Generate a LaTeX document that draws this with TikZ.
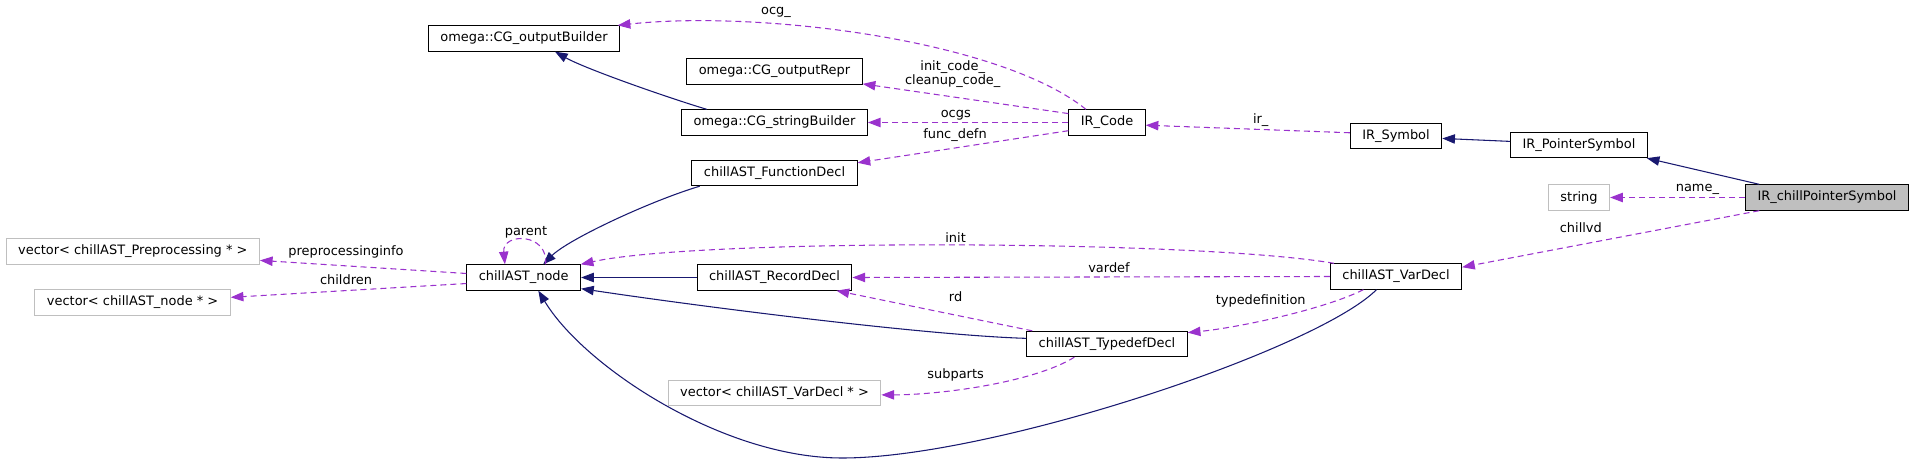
\documentclass[tikz,border=0pt]{standalone}
\usepackage{fontspec}
\setmainfont{DejaVu Sans}
\usetikzlibrary{arrows.meta}
\definecolor{edgeblue}{HTML}{191970}
\definecolor{edgepurple}{HTML}{9A32CD}
\definecolor{boxgrey}{HTML}{BFBFBF}

\begin{document}
\begin{tikzpicture}[x=0.75pt,y=-0.75pt]
    % Stili per classi e frecce
    \tikzset{
        class box/.style={
            draw=black,
            fill=white,
            line width=0.75pt,
            inner xsep=9pt,
            inner ysep=0pt,
            minimum height=19pt,
            font=\fontsize{9.7}{11.6}\selectfont
        },
        ext box/.style={class box, draw=boxgrey},
        main box/.style={class box, fill=boxgrey},
        edge label/.style={inner sep=0pt, align=center, font=\fontsize{9.7}{10.5}\selectfont},
        inherit/.style={draw=edgeblue, line width=0.8pt, -{Triangle[length=9.5pt,width=7pt]}},
        uses/.style={draw=edgepurple, line width=0.8pt, dash pattern=on 4.5pt off 3pt,
            -{Triangle[length=9.5pt,width=7pt]}}
    }

    \useasboundingbox (0,0) rectangle (1915,463);

    % Classi
    \node[class box] (outBuilder) at (524,38.5) {omega::CG\_outputBuilder};
    \node[class box] (outRepr) at (774.5,71.5) {omega::CG\_outputRepr};
    \node[class box] (strBuilder) at (774.5,122.5) {omega::CG\_stringBuilder};
    \node[class box] (funcDecl) at (774.5,173) {chillAST\_FunctionDecl};
    \node[class box] (irCode) at (1107,122.5) {IR\_Code};
    \node[class box] (irSymbol) at (1396,136) {IR\_Symbol};
    \node[class box] (ptrSymbol) at (1579,145) {IR\_PointerSymbol};
    \node[ext box] (strNode) at (1579,197.5) {string};
    \node[main box] (chillPtr) at (1827,197.5) {IR\_chillPointerSymbol};
    \node[class box] (varDecl) at (1396,276.5) {chillAST\_VarDecl};
    \node[class box] (astNode) at (523.7,277.5) {chillAST\_node};
    \node[class box] (recDecl) at (774.5,277.5) {chillAST\_RecordDecl};
    \node[class box] (tdefDecl) at (1107,344) {chillAST\_TypedefDecl};
    \node[ext box] (vecPre) at (132.8,251.5) {vector< chillAST\_Preprocessing * >};
    \node[ext box] (vecNode) at (132.6,302.5) {vector< chillAST\_node * >};
    \node[ext box] (vecVar) at (774.5,393) {vector< chillAST\_VarDecl * >};

    % Ereditarieta
    \draw[inherit] (strBuilder.169) .. controls +(-40,-12) and +(30,17) .. (outBuilder.337);
    \draw[inherit] (funcDecl.190) .. controls +(-50,15) and +(25,-25) .. (astNode.34);
    \draw[inherit] (recDecl.west) -- (astNode.east);
    \draw[inherit] (tdefDecl.176) .. controls +(-100,-3) and +(120,18) .. (astNode.349);
    \draw[inherit] (varDecl.214) .. controls +(-60,60) and +(150,0) .. (842,458)
        .. controls +(-120,0) and +(45,75) .. (astNode.318);
    \draw[inherit] (ptrSymbol.177) -- (irSymbol.357);
    \draw[inherit] (chillPtr.169) -- (ptrSymbol.349);

    % Relazioni d'uso
    \draw[uses] (irCode.148) .. controls (1000,40) and (760,10) .. (outBuilder.8);
    \draw[uses] (irCode.167) -- (outRepr.352);
    \draw[uses] (irCode.west) -- (strBuilder.east);
    \draw[uses] (irCode.192) -- (funcDecl.7);
    \draw[uses] (irSymbol.176) -- (irCode.356);
    \draw[uses] (chillPtr.west) -- (strNode.east);
    \draw[uses] (chillPtr.191) -- (varDecl.8);
    \draw[uses] (varDecl.168) .. controls (1200,240) and (700,238) .. (astNode.13);
    \draw[uses] (varDecl.west) -- (recDecl.east);
    \draw[uses] (tdefDecl.170) -- (recDecl.348);
    \draw[uses] (varDecl.202) .. controls +(-40,20) and +(50,-5) .. (tdefDecl.8);
    \draw[uses] (tdefDecl.202) .. controls +(-40,25) and +(60,0) .. (vecVar.359);
    \draw[uses] (astNode.176) -- (vecPre.356);
    \draw[uses] (astNode.186) -- (vecNode.3);
    \draw[uses] (astNode.31) .. controls +(3,-32) and +(-3,-32) .. (astNode.145);

    % Etichette
    \node[edge label] (lblOcg) at (776,12.5) {ocg\_};
    \node[edge label] (lblInit) at (952.7,74) {init\_code\_\\cleanup\_code\_};
    \node[edge label] (lblOcgs) at (955.8,115) {ocgs};
    \node[edge label] (lblFunc) at (955,135) {func\_defn};
    \node[edge label] (lblIr) at (1260.7,120) {ir\_};
    \node[edge label] (lblName) at (1697.4,189) {name\_};
    \node[edge label] (lblChillvd) at (1580.8,227.7) {chillvd};
    \node[edge label] (lblParent) at (526,232) {parent};
    \node[edge label] (lblPrepro) at (346,252) {preprocessinginfo};
    \node[edge label] (lblChildren) at (346,280) {children};
    \node[edge label] (lblInitVar) at (955.6,238) {init};
    \node[edge label] (lblVardef) at (1109,267.7) {vardef};
    \node[edge label] (lblRd) at (955.6,296.7) {rd};
    \node[edge label] (lblTypedef) at (1260.7,300.7) {typedefinition};
    \node[edge label] (lblSub) at (955.6,375) {subparts};
\end{tikzpicture}
\end{document}
